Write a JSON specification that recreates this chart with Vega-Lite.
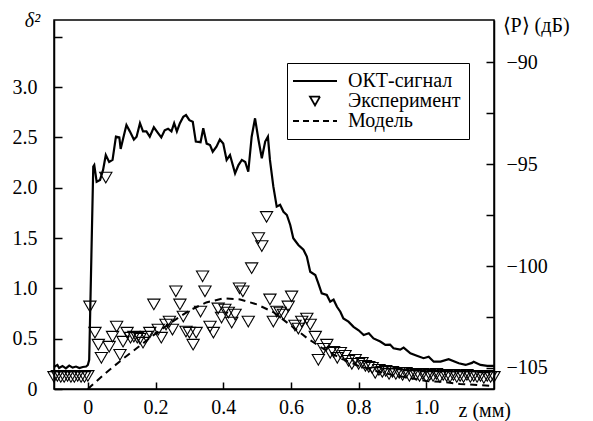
{
  "$schema": "https://vega.github.io/schema/vega-lite/v6.json",
  "width": 440,
  "height": 369,
  "autosize": {"type": "none"},
  "padding": {"left": 54, "top": 20, "right": 99, "bottom": 32},
  "background": "white",
  "config": {
    "font": "Liberation Serif",
    "view": {"stroke": "black", "strokeWidth": 1.5},
    "axis": {
      "grid": false,
      "domainColor": "black",
      "domainWidth": 1.5,
      "tickColor": "black",
      "tickWidth": 1.5,
      "labelFont": "Liberation Serif",
      "labelFontSize": 20,
      "labelColor": "black",
      "titleFont": "Liberation Serif",
      "titleFontSize": 20,
      "titleFontWeight": "normal",
      "titleColor": "black"
    }
  },
  "datasets": {
    "okt": [
      {"z": -0.1, "p": -104.95}, {"z": -0.09, "p": -104.85}, {"z": -0.085, "p": -105.0}, {"z": -0.075, "p": -104.9},
      {"z": -0.065, "p": -105.02}, {"z": -0.055, "p": -104.88}, {"z": -0.045, "p": -104.98}, {"z": -0.035, "p": -104.93},
      {"z": -0.025, "p": -105.0}, {"z": -0.015, "p": -104.95}, {"z": -0.005, "p": -104.93}, {"z": 0.0, "p": -104.85},
      {"z": 0.004, "p": -104.6}, {"z": 0.016, "p": -95.13}, {"z": 0.019, "p": -95.05}, {"z": 0.026, "p": -95.87},
      {"z": 0.036, "p": -95.78}, {"z": 0.045, "p": -95.29}, {"z": 0.053, "p": -94.56}, {"z": 0.063, "p": -94.9},
      {"z": 0.073, "p": -94.8}, {"z": 0.083, "p": -93.66}, {"z": 0.093, "p": -93.7}, {"z": 0.097, "p": -94.26},
      {"z": 0.105, "p": -93.7}, {"z": 0.114, "p": -93.09}, {"z": 0.124, "p": -93.4}, {"z": 0.136, "p": -93.8},
      {"z": 0.144, "p": -93.66}, {"z": 0.154, "p": -93.0}, {"z": 0.163, "p": -93.4}, {"z": 0.173, "p": -93.4},
      {"z": 0.183, "p": -93.66}, {"z": 0.195, "p": -93.2}, {"z": 0.208, "p": -93.5}, {"z": 0.217, "p": -93.7},
      {"z": 0.227, "p": -93.35}, {"z": 0.237, "p": -93.27}, {"z": 0.247, "p": -93.4}, {"z": 0.255, "p": -93.0},
      {"z": 0.263, "p": -93.4}, {"z": 0.272, "p": -93.0}, {"z": 0.282, "p": -92.68}, {"z": 0.29, "p": -92.6},
      {"z": 0.3, "p": -92.85}, {"z": 0.31, "p": -92.93}, {"z": 0.319, "p": -93.9}, {"z": 0.333, "p": -93.93},
      {"z": 0.341, "p": -93.25}, {"z": 0.351, "p": -94.0}, {"z": 0.361, "p": -94.07}, {"z": 0.369, "p": -94.4},
      {"z": 0.38, "p": -94.15}, {"z": 0.39, "p": -93.8}, {"z": 0.4, "p": -94.0}, {"z": 0.41, "p": -94.8},
      {"z": 0.42, "p": -94.56}, {"z": 0.435, "p": -95.46}, {"z": 0.445, "p": -95.05}, {"z": 0.455, "p": -94.8},
      {"z": 0.465, "p": -94.9}, {"z": 0.474, "p": -95.38}, {"z": 0.484, "p": -93.66}, {"z": 0.494, "p": -92.76},
      {"z": 0.504, "p": -93.8}, {"z": 0.514, "p": -94.72}, {"z": 0.524, "p": -93.9}, {"z": 0.532, "p": -93.66},
      {"z": 0.538, "p": -94.8}, {"z": 0.548, "p": -96.1}, {"z": 0.558, "p": -97.09}, {"z": 0.568, "p": -97.0},
      {"z": 0.578, "p": -97.34}, {"z": 0.588, "p": -97.5}, {"z": 0.598, "p": -97.99}, {"z": 0.607, "p": -98.64},
      {"z": 0.622, "p": -98.97}, {"z": 0.637, "p": -99.2}, {"z": 0.647, "p": -99.54}, {"z": 0.657, "p": -100.28},
      {"z": 0.672, "p": -100.44}, {"z": 0.681, "p": -100.85}, {"z": 0.691, "p": -101.34}, {"z": 0.706, "p": -101.42},
      {"z": 0.716, "p": -101.75}, {"z": 0.726, "p": -101.65}, {"z": 0.736, "p": -102.0}, {"z": 0.746, "p": -102.24},
      {"z": 0.755, "p": -102.57}, {"z": 0.77, "p": -102.73}, {"z": 0.785, "p": -102.98}, {"z": 0.8, "p": -103.15},
      {"z": 0.815, "p": -103.38}, {"z": 0.83, "p": -103.3}, {"z": 0.844, "p": -103.55}, {"z": 0.864, "p": -103.7},
      {"z": 0.879, "p": -103.87}, {"z": 0.893, "p": -103.85}, {"z": 0.903, "p": -104.03}, {"z": 0.923, "p": -104.1},
      {"z": 0.933, "p": -104.0}, {"z": 0.953, "p": -104.28}, {"z": 0.972, "p": -104.4}, {"z": 0.992, "p": -104.52},
      {"z": 1.007, "p": -104.45}, {"z": 1.022, "p": -104.69}, {"z": 1.042, "p": -104.69}, {"z": 1.066, "p": -104.57},
      {"z": 1.096, "p": -104.77}, {"z": 1.116, "p": -104.85}, {"z": 1.135, "p": -104.75}, {"z": 1.14, "p": -104.69},
      {"z": 1.16, "p": -104.85}, {"z": 1.18, "p": -104.9}, {"z": 1.2, "p": -104.9}
    ],
    "exp": [
      {"z": -0.1, "d": 0.12}, {"z": -0.09, "d": 0.13}, {"z": -0.08, "d": 0.12}, {"z": -0.07, "d": 0.12},
      {"z": -0.06, "d": 0.13}, {"z": -0.05, "d": 0.12}, {"z": -0.04, "d": 0.12}, {"z": -0.03, "d": 0.13},
      {"z": -0.02, "d": 0.12}, {"z": -0.01, "d": 0.12}, {"z": 0.0, "d": 0.13},
      {"z": 0.006, "d": 0.82}, {"z": 0.021, "d": 0.56}, {"z": 0.031, "d": 0.44}, {"z": 0.04, "d": 0.31},
      {"z": 0.053, "d": 2.1}, {"z": 0.063, "d": 0.42}, {"z": 0.073, "d": 0.52}, {"z": 0.085, "d": 0.62},
      {"z": 0.095, "d": 0.34}, {"z": 0.104, "d": 0.47}, {"z": 0.116, "d": 0.56}, {"z": 0.126, "d": 0.51},
      {"z": 0.136, "d": 0.52}, {"z": 0.146, "d": 0.51}, {"z": 0.154, "d": 0.5}, {"z": 0.163, "d": 0.46},
      {"z": 0.173, "d": 0.52}, {"z": 0.183, "d": 0.56}, {"z": 0.195, "d": 0.84}, {"z": 0.208, "d": 0.59},
      {"z": 0.217, "d": 0.51}, {"z": 0.231, "d": 0.64}, {"z": 0.241, "d": 0.67}, {"z": 0.25, "d": 0.59},
      {"z": 0.26, "d": 0.97}, {"z": 0.272, "d": 0.84}, {"z": 0.282, "d": 0.72}, {"z": 0.29, "d": 0.57},
      {"z": 0.3, "d": 0.56}, {"z": 0.311, "d": 0.44}, {"z": 0.32, "d": 0.56}, {"z": 0.333, "d": 0.77},
      {"z": 0.339, "d": 1.12}, {"z": 0.346, "d": 0.97}, {"z": 0.361, "d": 0.62}, {"z": 0.371, "d": 0.56},
      {"z": 0.385, "d": 0.8}, {"z": 0.395, "d": 0.71}, {"z": 0.405, "d": 0.79}, {"z": 0.415, "d": 0.76},
      {"z": 0.425, "d": 0.66}, {"z": 0.435, "d": 0.74}, {"z": 0.448, "d": 1.0}, {"z": 0.458, "d": 0.97},
      {"z": 0.474, "d": 0.67}, {"z": 0.484, "d": 1.2}, {"z": 0.504, "d": 1.5}, {"z": 0.514, "d": 1.42},
      {"z": 0.528, "d": 1.71}, {"z": 0.538, "d": 0.89}, {"z": 0.548, "d": 0.67}, {"z": 0.558, "d": 0.77},
      {"z": 0.568, "d": 0.76}, {"z": 0.578, "d": 0.74}, {"z": 0.592, "d": 0.82}, {"z": 0.602, "d": 0.92},
      {"z": 0.612, "d": 0.63}, {"z": 0.622, "d": 0.6}, {"z": 0.632, "d": 0.67}, {"z": 0.647, "d": 0.7},
      {"z": 0.657, "d": 0.64}, {"z": 0.672, "d": 0.52}, {"z": 0.681, "d": 0.29}, {"z": 0.696, "d": 0.4},
      {"z": 0.706, "d": 0.44}, {"z": 0.716, "d": 0.36}, {"z": 0.726, "d": 0.37}, {"z": 0.737, "d": 0.31},
      {"z": 0.746, "d": 0.36}, {"z": 0.76, "d": 0.33}, {"z": 0.77, "d": 0.28}, {"z": 0.78, "d": 0.25},
      {"z": 0.79, "d": 0.29}, {"z": 0.8, "d": 0.25}, {"z": 0.81, "d": 0.26}, {"z": 0.82, "d": 0.23},
      {"z": 0.83, "d": 0.22}, {"z": 0.84, "d": 0.21}, {"z": 0.849, "d": 0.16}, {"z": 0.86, "d": 0.19},
      {"z": 0.87, "d": 0.17}, {"z": 0.88, "d": 0.18}, {"z": 0.89, "d": 0.15}, {"z": 0.9, "d": 0.17},
      {"z": 0.91, "d": 0.15}, {"z": 0.92, "d": 0.16}, {"z": 0.93, "d": 0.14}, {"z": 0.94, "d": 0.16},
      {"z": 0.95, "d": 0.13}, {"z": 0.96, "d": 0.15}, {"z": 0.97, "d": 0.14}, {"z": 0.98, "d": 0.13},
      {"z": 0.99, "d": 0.15}, {"z": 1.0, "d": 0.12}, {"z": 1.01, "d": 0.14}, {"z": 1.02, "d": 0.13},
      {"z": 1.03, "d": 0.15}, {"z": 1.04, "d": 0.12}, {"z": 1.05, "d": 0.14}, {"z": 1.06, "d": 0.13},
      {"z": 1.07, "d": 0.12}, {"z": 1.08, "d": 0.14}, {"z": 1.09, "d": 0.12}, {"z": 1.1, "d": 0.13},
      {"z": 1.11, "d": 0.12}, {"z": 1.12, "d": 0.14}, {"z": 1.13, "d": 0.12}, {"z": 1.14, "d": 0.13},
      {"z": 1.15, "d": 0.12}, {"z": 1.16, "d": 0.13}, {"z": 1.17, "d": 0.11}, {"z": 1.18, "d": 0.13},
      {"z": 1.19, "d": 0.12}, {"z": 1.2, "d": 0.12}
    ],
    "model": [
      {"z": 0.0, "d": 0.0}, {"z": 0.05, "d": 0.15}, {"z": 0.1, "d": 0.29}, {"z": 0.15, "d": 0.42},
      {"z": 0.2, "d": 0.55}, {"z": 0.25, "d": 0.67}, {"z": 0.3, "d": 0.78}, {"z": 0.35, "d": 0.86},
      {"z": 0.4, "d": 0.9}, {"z": 0.45, "d": 0.89}, {"z": 0.5, "d": 0.84}, {"z": 0.55, "d": 0.76},
      {"z": 0.6, "d": 0.63}, {"z": 0.65, "d": 0.5}, {"z": 0.7, "d": 0.39}, {"z": 0.75, "d": 0.3},
      {"z": 0.8, "d": 0.23}, {"z": 0.85, "d": 0.18}, {"z": 0.9, "d": 0.14}, {"z": 0.95, "d": 0.11},
      {"z": 1.0, "d": 0.08}, {"z": 1.05, "d": 0.07}, {"z": 1.1, "d": 0.05}, {"z": 1.15, "d": 0.04},
      {"z": 1.2, "d": 0.03}
    ]
  },
  "encoding": {
    "x": {
      "field": "z",
      "type": "quantitative",
      "scale": {"domain": [-0.1, 1.2], "nice": false, "zero": false},
      "axis": {
        "values": [0, 0.2, 0.4, 0.6, 0.8, 1.0],
        "labelExpr": "datum.value === 0 ? '0' : format(datum.value, '.1f')",
        "labelFont": "Liberation Serif",
        "titleFont": "Liberation Serif",
        "tickSize": -7,
        "labelPadding": 31,
        "labelBaseline": "alphabetic",
        "labelFlush": false,
        "title": "z (мм)",
        "titleAnchor": "start",
        "titleAlign": "left",
        "titleBaseline": "alphabetic",
        "titleX": 404,
        "titleY": 27
      }
    }
  },
  "layer": [
    {
      "layer": [
        {
          "data": {"name": "exp"},
          "mark": {"type": "point", "filled": false, "size": 150, "strokeWidth": 1.1, "opacity": 1, "color": "black"},
          "encoding": {
            "y": {
              "field": "d",
              "type": "quantitative",
              "scale": {"domain": [0, 3.666], "nice": false, "zero": false},
              "axis": {
                "orient": "left",
                "values": [0, 0.5, 1.0, 1.5, 2.0, 2.5, 3.0, 3.5],
                "labelExpr": "datum.value === 0 ? '0' : (datum.value > 3.2 ? '' : format(datum.value, '.1f'))",
                "labelFont": "Liberation Serif",
                "titleFont": "Liberation Serif",
                "tickSize": -8,
                "labelPadding": 25,
                "labelFlush": false,
                "title": "δ²",
                "titleFontStyle": "italic",
                "titleAngle": 0,
                "titleAlign": "center",
                "titleBaseline": "middle",
                "titleX": -22,
                "titleY": 0
              }
            },
            "shape": {
              "datum": "Эксперимент",
              "scale": {
                "domain": ["ОКТ-сигнал", "Эксперимент", "Модель"],
                "range": ["M-4.4,0L4.4,0", "M-1,-0.866L1,-0.866L0,0.866Z", "M-4.4,0L4.4,0"]
              },
              "legend": {
                "orient": "none",
                "legendX": 233,
                "legendY": 43,
                "title": null,
                "strokeColor": "black",
                "fillColor": "white",
                "padding": 8,
                "rowPadding": 0,
                "symbolSize": 100,
                "symbolOffset": 10,
                "symbolStrokeWidth": 1.8,
                "symbolStrokeColor": "black",
                "symbolFillColor": "transparent",
                "labelFont": "Liberation Serif",
                "labelFontSize": 20,
                "labelColor": "black",
                "labelOffset": 23,
                "labelLimit": 300
              }
            },
            "strokeDash": {
              "datum": "Эксперимент",
              "scale": {
                "domain": ["ОКТ-сигнал", "Эксперимент", "Модель"],
                "range": [[1, 0], [1, 0], [6, 4]]
              }
            }
          }
        },
        {
          "data": {"name": "model"},
          "mark": {"type": "line", "strokeWidth": 2, "strokeDash": [7, 5], "color": "black"},
          "encoding": {
            "y": {"field": "d", "type": "quantitative"}
          }
        }
      ]
    },
    {
      "data": {"name": "okt"},
      "mark": {"type": "line", "strokeWidth": 2.2, "color": "black"},
      "encoding": {
        "y": {
          "field": "p",
          "type": "quantitative",
          "scale": {"domain": [-106.03, -87.94], "nice": false, "zero": false},
          "axis": {
            "orient": "right",
            "values": [-105, -102.5, -100, -97.5, -95, -92.5, -90],
            "labelExpr": "datum.value % 5 === 0 ? replace(format(datum.value, 'd'), '-', '−') : ''",
            "labelFont": "Liberation Serif",
            "titleFont": "Liberation Serif",
            "tickSize": -8,
            "labelPadding": 20,
            "labelFlush": false,
            "title": "⟨P⟩ (дБ)",
            "titleAngle": 0,
            "titleAlign": "left",
            "titleBaseline": "middle",
            "titleX": 8,
            "titleY": 5
          }
        }
      }
    }
  ],
  "resolve": {"scale": {"y": "independent"}}
}
